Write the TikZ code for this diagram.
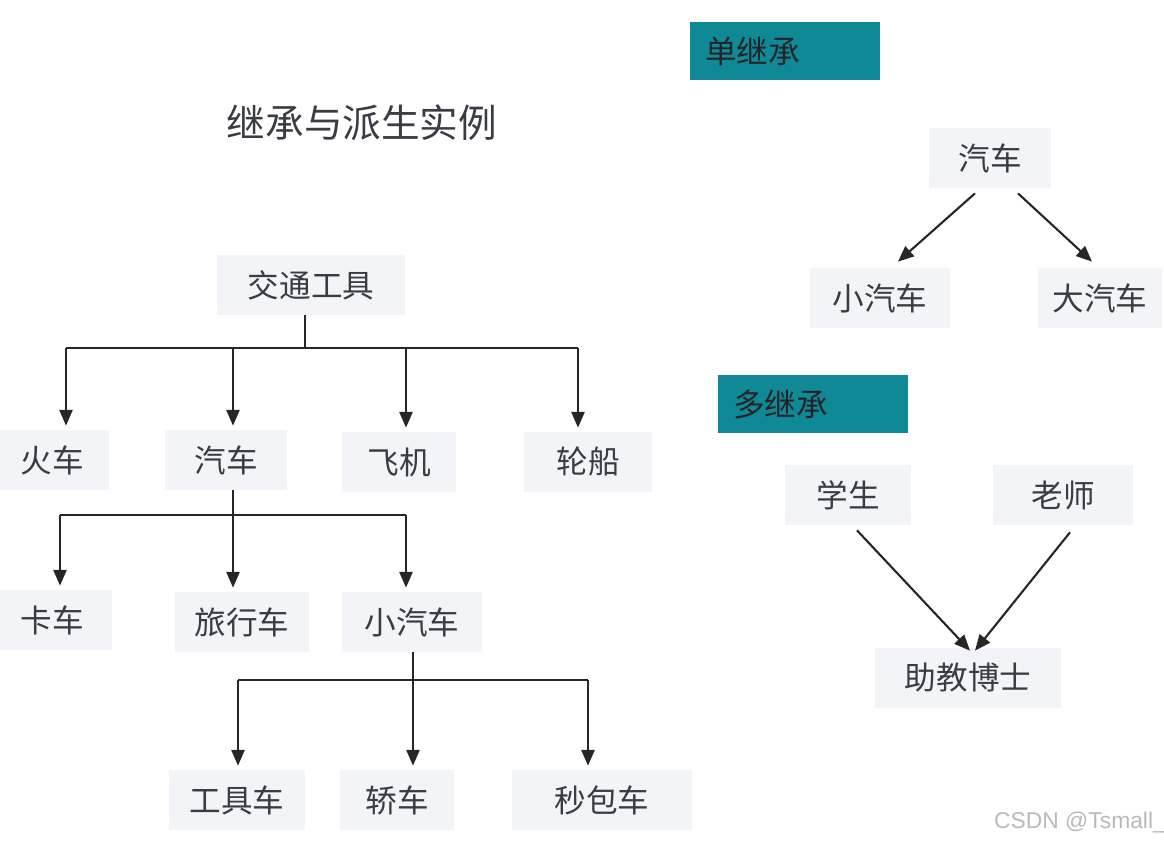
\documentclass[tikz,border=0pt]{standalone}
\usepackage{fontspec}
\setmainfont{Liberation Sans}
\newfontfamily\cjk{Noto Sans CJK SC}
\usetikzlibrary{arrows.meta,positioning}
\definecolor{ihteal}{RGB}{16,137,150}
\definecolor{ihbg}{RGB}{242,244,247}
\definecolor{ihtext}{RGB}{58,60,68}
\definecolor{ihline}{RGB}{38,38,38}

\begin{document}
\begin{tikzpicture}[x=.02cm,y=-.02cm,font=\cjk\fontsize{18}{20}\selectfont,>={Triangle[length=9pt,width=7.5pt]}]
    \tikzset{cls/.style={fill=ihbg,text=ihtext,minimum height=1.2cm,inner xsep=4pt},
      tag/.style={fill=ihteal,text=ihtext!60!black,minimum height=1.16cm,text width=3.2cm,inner xsep=.3cm},
      link/.style={draw=ihline,line width=1.2pt}}
    \useasboundingbox (0,0) rectangle (1164,842);
    \node[text=ihtext,font=\cjk\fontsize{22}{24}\selectfont] (title) at (362,123) {继承与派生实例};
    % inheritance tree
    \node[cls,minimum width=3.76cm] (jt) at (311,285) {交通工具};
    \node[cls,minimum width=2.3cm] (huoche) at (52,460) {火车};
    \node[cls,minimum width=2.46cm] (qiche) at (226,460) {汽车};
    \node[cls,minimum width=2.3cm] (feiji) at (399,462) {飞机};
    \node[cls,minimum width=2.56cm] (lunchuan) at (588,462) {轮船};
    \node[cls,minimum width=2.4cm] (kache) at (52,620) {卡车};
    \node[cls,minimum width=2.7cm] (lvxing) at (242,622) {旅行车};
    \node[cls,minimum width=2.8cm] (xiao) at (412,622) {小汽车};
    \node[cls,minimum width=2.74cm] (gongju) at (237,800) {工具车};
    \node[cls,minimum width=2.3cm] (jiao) at (397,800) {轿车};
    \node[cls,minimum width=3.6cm] (miaobao) at (602,800) {秒包车};
    \coordinate (b1) at (305,348);
    \coordinate (b2) at (233,515);
    \coordinate (b3) at (413,680);
    \foreach \n/\dx in {huoche/14,qiche/7,feiji/7,lunchuan/-10,kache/8,lvxing/-9,xiao/-6,gongju/1,jiao/16,miaobao/-14}
      \coordinate (t\n) at ([xshift=\dx*0.02cm,yshift=.08cm]\n.north);
    \draw[link] (b1 |- jt.south) -- (b1);
    \draw[link] (thuoche |- b1) -- (tlunchuan |- b1);
    \foreach \n in {huoche,qiche,feiji,lunchuan}
      \draw[link,->] (t\n |- b1) -- (t\n);
    \draw[link] (b2 |- qiche.south) -- (b2);
    \draw[link] (tkache |- b2) -- (txiao |- b2);
    \foreach \n in {kache,lvxing,xiao}
      \draw[link,->] (t\n |- b2) -- (t\n);
    \draw[link] (b3 |- xiao.south) -- (b3);
    \draw[link] (tgongju |- b3) -- (tmiaobao |- b3);
    \foreach \n in {gongju,jiao,miaobao}
      \draw[link,->] (t\n |- b3) -- (t\n);
    % single inheritance
    \node[tag] (dan) at (785,51) {单继承};
    \node[cls,minimum width=2.46cm] (qc) at (990,158) {汽车};
    \node[cls,minimum width=2.8cm] (xqc) at (880,298) {小汽车};
    \node[cls,minimum width=2.5cm] (dqc) at (1100,298) {大汽车};
    \draw[link,->] ([xshift=-.3cm,yshift=-.1cm]qc.south) -- ([xshift=.36cm,yshift=.12cm]xqc.north);
    \draw[link,->] ([xshift=.56cm,yshift=-.1cm]qc.south) -- ([xshift=-.16cm,yshift=.12cm]dqc.north);
    % multiple inheritance
    \node[tag] (duo) at (813,404) {多继承};
    \node[cls,minimum width=2.54cm] (xs) at (848,495) {学生};
    \node[cls,minimum width=2.8cm] (ls) at (1063,495) {老师};
    \node[cls,minimum width=3.74cm] (zj) at (968,678) {助教博士};
    \draw[link,->] ([xshift=.18cm,yshift=-.1cm]xs.south) -- ([xshift=.04cm,yshift=-.06cm]zj.north);
    \draw[link,->] ([xshift=.14cm,yshift=-.14cm]ls.south) -- ([xshift=.14cm,yshift=-.06cm]zj.north);
    \node[text=gray!55,font=\fontsize{13}{14}\selectfont] (wm) at (1080,822) {CSDN @Tsmall\_};
\end{tikzpicture}
\end{document}
